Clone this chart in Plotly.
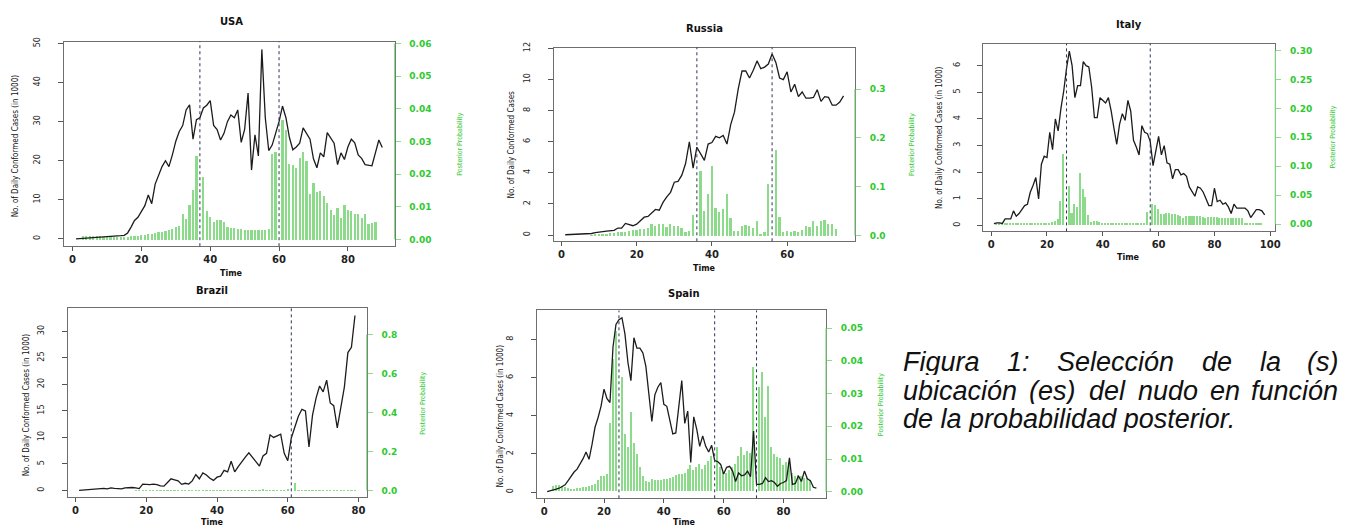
import plotly.graph_objects as go

W, H = 1352, 526

# ---------------- data ----------------
usa_cases = [0.0, 0.05, 0.1, 0.15, 0.2, 0.25, 0.3, 0.35, 0.4, 0.45, 0.5, 0.6, 0.7, 0.8, 0.9,
             1.5, 3.0, 4.7, 5.5, 7.0, 8.5, 11.2, 9.0, 14.0, 16.5, 18.5, 20.0, 18.5, 21.5, 25.0,
             27.5, 29.0, 33.0, 34.3, 25.5, 30.5, 31.0, 33.5, 34.2, 35.4, 29.0, 28.0, 25.3, 27.0, 30.0,
             31.7, 31.0, 33.0, 24.7, 28.0, 37.3, 17.6, 26.6, 21.2, 48.5, 31.0, 22.6, 24.0, 27.0, 30.0,
             34.0, 31.0, 26.0, 22.8, 23.5, 24.5, 28.4, 27.0, 25.5, 20.5, 18.2, 22.0, 21.0, 27.2, 25.8,
             24.5, 19.0, 22.0, 20.3, 23.5, 25.5, 24.6, 21.5, 20.6, 19.0, 18.8, 18.7, 22.0, 25.3, 23.4]
usa_prob = [0, 0, 0.0013, 0.0013, 0.0012, 0.0012, 0.0011, 0.0011, 0.001, 0.001,
            0.001, 0.001, 0.001, 0.001, 0.001, 0.001, 0.0011, 0.0012, 0.0013, 0.0014,
            0.0015, 0.0017, 0.0019, 0.0021, 0.0023, 0.0025, 0.0027, 0.003, 0.0034, 0.0038,
            0.0043, 0.008, 0.0063, 0.0107, 0.0154, 0.0256, 0.0, 0.0192, 0.0088, 0.0071,
            0.0056, 0.006, 0.006, 0.0053, 0.004, 0.0037, 0.0035, 0.0033, 0.0032, 0.0031,
            0.003, 0.0029, 0.0029, 0.003, 0.003, 0.003, 0.0034, 0.0262, 0.027, 0.0,
            0.0366, 0.0335, 0.0233, 0.0228, 0.0221, 0.0251, 0.0268, 0.024, 0.014, 0.0175,
            0.0145, 0.0148, 0.0135, 0.0113, 0.009, 0.0075, 0.0098, 0.0066, 0.0108, 0.009,
            0.0089, 0.008, 0.008, 0.0067, 0.0078, 0.0048, 0.005, 0.0053, 0, 0]
usa_knots = [37, 60]

russia_cases = [0.02, 0.03, 0.03, 0.04, 0.04, 0.05, 0.05, 0.1, 0.15, 0.2,
                0.22, 0.25, 0.27, 0.3, 0.45, 0.45, 0.75, 0.65, 0.6, 0.7,
                0.95, 1.15, 1.2, 1.4, 1.65, 1.6, 2.1, 2.45, 2.75, 3.4,
                3.45, 3.85, 4.6, 6.0, 4.3, 5.65, 5.2, 4.8, 5.85, 5.95,
                6.35, 6.25, 6.4, 5.85, 7.1, 7.9, 9.4, 10.55, 10.55, 10.1,
                10.6, 11.2, 10.7, 10.8, 11.0, 11.65, 11.1, 10.1, 10.0, 10.5,
                9.2, 9.7, 8.9, 9.2, 8.8, 8.8, 8.85, 9.35, 8.6, 8.9,
                8.85, 8.35, 8.35, 8.55, 8.95]
russia_prob = [0, 0, 0, 0, 0, 0, 0, 0.001, 0.002, 0.003,
               0.003, 0.004, 0.005, 0.006, 0.007, 0.008, 0.009, 0.01, 0.0115, 0.013,
               0.014, 0.014, 0.016, 0.024, 0.021, 0.024, 0.025, 0.019, 0.024, 0.021,
               0.02, 0.016, 0.008, 0.011, 0.043, 0, 0.134, 0.051, 0.085, 0.143,
               0.058, 0.049, 0.055, 0.085, 0.036, 0.011, 0.011, 0.02, 0.022, 0.021,
               0.017, 0.03, 0.004, 0.008, 0.107, 0, 0.175, 0.038, 0.009, 0.011,
               0.007, 0.01, 0.009, 0.012, 0.02, 0.018, 0.03, 0.02, 0.03, 0.032,
               0.025, 0.024, 0.015, 0, 0]
russia_knots = [36, 56]

italy_cases = [0.07, 0.1, 0.1, 0.08, 0.25, 0.25, 0.25, 0.55, 0.35, 0.45,
               0.6, 0.75, 0.8, 1.25, 1.5, 1.8, 1.0, 2.3, 2.6, 2.55,
               3.5, 2.85, 4.0, 3.55, 4.4, 5.05, 5.9, 6.55, 6.0, 4.8,
               5.25, 5.25, 6.15, 6.0, 5.95, 5.2, 4.05, 4.05, 4.8, 4.7,
               4.6, 4.8, 4.3, 3.65, 3.05, 3.8, 4.2, 3.95, 4.7, 4.3,
               3.2, 2.95, 2.65, 3.75, 3.5, 3.45, 3.15, 2.25, 2.8, 3.35,
               2.65, 3.0, 2.35, 2.3, 1.75, 2.1, 2.1, 1.9, 1.95, 1.85,
               1.45, 1.25, 1.1, 1.45, 1.4, 1.25, 1.0, 0.75, 0.75, 1.4,
               0.9, 0.95, 0.8, 0.85, 0.7, 0.45, 0.8, 0.65, 0.65, 0.65,
               0.65, 0.55, 0.3, 0.45, 0.6, 0.6, 0.55, 0.4]
italy_prob = [0, 0.002, 0.003, 0.002, 0.002, 0.002, 0.002, 0.002, 0.002, 0.002,
              0.002, 0.002, 0.002, 0.002, 0.002, 0.002, 0.002, 0.002, 0.002, 0.003,
              0.003, 0.005, 0.007, 0.01, 0.041, 0.122, 0, 0.067, 0.02, 0.035,
              0.031, 0.089, 0.062, 0.048, 0.0165, 0.005, 0.006, 0.006, 0.004, 0.003,
              0.002, 0.002, 0.002, 0.002, 0.002, 0.002, 0.002, 0.002, 0.002, 0.002,
              0.002, 0.002, 0.002, 0.002, 0.002, 0.021, 0, 0.035, 0.0335, 0.027,
              0.018, 0.018, 0.02, 0.02, 0.019, 0.018, 0.017, 0.015, 0.012, 0.014,
              0.015, 0.014, 0.015, 0.015, 0.014, 0.013, 0.012, 0.013, 0.013, 0.013,
              0.013, 0.012, 0.011, 0.012, 0.012, 0.011, 0.011, 0.011, 0.011, 0.011,
              0.002, 0.002, 0.002, 0.002, 0.002, 0.002, 0.002, 0]
italy_knots = [27, 57]

brazil_cases = [0.0, 0.05, 0.1, 0.1, 0.15, 0.2, 0.25, 0.4, 0.3, 0.5,
                0.4, 0.35, 0.3, 0.5, 0.55, 0.55, 0.5, 0.35, 1.2, 1.15,
                1.1, 1.2, 1.1, 0.85, 0.8, 1.5, 2.2, 2.0, 1.8, 1.15,
                1.35, 1.2, 1.8, 3.0, 2.2, 3.3, 2.9, 2.3, 1.9, 2.5,
                2.7, 3.8, 3.5, 5.5, 3.5, 4.5, 5.5, 6.3, 7.1, 6.3,
                5.3, 4.6, 6.5, 7.0, 10.5, 10.0, 10.3, 10.6, 7.0, 5.6,
                9.9, 11.8, 14.0, 15.3, 15.0, 8.2, 14.2, 17.4, 19.7, 18.6,
                20.8, 16.5, 16.0, 11.8, 15.5, 19.5, 26.0, 27.0, 33.0]
brazil_prob = [0, 0, 0, 0, 0, 0, 0, 0, 0, 0,
               0, 0, 0, 0, 0, 0, 0.003, 0.003, 0.003, 0.003,
               0.003, 0.003, 0.003, 0.003, 0.003, 0.003, 0.003, 0.003, 0.003, 0.003,
               0.003, 0.003, 0.003, 0.003, 0.003, 0.003, 0.003, 0.003, 0.003, 0.003,
               0.003, 0.003, 0.003, 0.003, 0.003, 0.003, 0.005, 0.003, 0.003, 0.003,
               0.003, 0.003, 0.012, 0.003, 0.003, 0.003, 0.003, 0.003, 0.003, 0.01,
               0, 0.043, 0.003, 0.003, 0.003, 0.003, 0.003, 0.003, 0.003, 0.003,
               0.003, 0.003, 0.003, 0.003, 0.003, 0.003, 0.003, 0.003, 0.003]
brazil_knots = [61]

spain_cases = [0.02, 0.05, 0.1, 0.15, 0.2, 0.28, 0.38, 0.6, 0.85, 1.05,
               1.2, 1.45, 1.75, 2.1, 1.72, 2.5, 3.4, 3.9, 4.5, 5.4,
               4.9, 4.7, 7.6, 8.8, 9.05, 9.15, 8.3, 6.8, 5.85, 8.1,
               7.55, 7.55, 7.3, 6.6, 5.3, 3.7, 5.1, 5.5, 5.75, 4.6,
               4.5, 3.8, 3.05, 3.1, 4.4, 5.85, 3.6, 4.25, 1.55, 3.95,
               3.3, 2.4, 2.95, 2.4, 2.1, 2.45, 1.65, 1.6, 1.45, 0.95,
               1.3, 1.35, 1.1, 0.55, 1.0, 0.85, 0.9, 1.1, 0.8, 3.2,
               0.4, 0.4, 0.45, 0.75, 0.55, 0.6, 0.5, 0.3, 0.45, 0.5,
               0.6, 1.8, 0.4, 0.45, 0.85, 0.55, 1.1, 0.7, 0.6, 0.25, 0.2]
spain_prob = [0, 0, 0.0015, 0.002, 0.0018, 0.0015, 0.0012, 0.001, 0.0008, 0.0008,
              0.001, 0.001, 0.0012, 0.0014, 0.0016, 0.0018, 0.0023, 0.0036, 0.0048, 0.0048,
              0.0053, 0.021, 0.0405, 0.049, 0, 0.0348, 0.0176, 0.0136, 0.0242, 0.0147,
              0.0114, 0.0074, 0.0048, 0.003, 0.0029, 0.0037, 0.0035, 0.0034, 0.0035, 0.0037,
              0.0039, 0.0042, 0.0045, 0.005, 0.0052, 0.0053, 0.0055, 0.0069, 0.0079, 0.0065,
              0.0075, 0.0084, 0.0069, 0.0079, 0.0094, 0.0109, 0, 0.0136, 0.0074, 0.006,
              0.0055, 0.0064, 0.0074, 0.0084, 0.0107, 0.0134, 0.0112, 0.0124, 0.0116, 0.0379,
              0, 0.0318, 0.0364, 0.0228, 0.0323, 0.0134, 0.0114, 0.0104, 0.0102, 0.0081,
              0.0089, 0.0091, 0.0056, 0.0048, 0.005, 0.0048, 0.0042, 0.004, 0.0035, 0, 0]
spain_knots = [25, 57, 71]

usa_days = list(range(1, len(usa_cases) + 1))
russia_days = list(range(1, len(russia_cases) + 1))
italy_days = list(range(1, len(italy_cases) + 1))
brazil_days = list(range(1, len(brazil_cases) + 1))
spain_days = list(range(1, len(spain_cases) + 1))

YLAB_1000 = "No. of Daily Conformed Cases (in 1000)"
YLAB_PLAIN = "No. of Daily Conformed Cases"
Y2LAB = "Posterior Probability"
XLAB = "Time"
CAPTION = "Figura 1: Selección de la (s) ubicación (es) del nudo en función de la probabilidad posterior."

# --------------- layout config (positions in pixels) ---------------
panels = [
    dict(name="USA", t=usa_days, c=usa_cases, p=usa_prob, k=usa_knots, ylab=YLAB_1000,
         box=(64, 396, 36, 243), xr=[-2.56, 93.56], yr=[-1.9, 50.5], y2r=[-0.0021, 0.0606],
         xt=[0, 20, 40, 60, 80], yt=[0, 10, 20, 30, 40, 50],
         y2t=[0, 0.01, 0.02, 0.03, 0.04, 0.05, 0.06], y2f=".2f", bw=0.5,
         title=(232, 16), time=(232, 271), yl=(15, 141), y2l=(462, 140)),
    dict(name="Russia", t=russia_days, c=russia_cases, p=russia_prob, k=russia_knots, ylab=YLAB_PLAIN,
         box=(556, 858, 42, 238), xr=[-2.0, 78.0], yr=[-0.4, 12.06], y2r=[-0.012, 0.385],
         xt=[0, 20, 40, 60], yt=[0, 2, 4, 6, 8, 10, 12],
         y2t=[0, 0.1, 0.2, 0.3], y2f=".1f", bw=0.48,
         title=(707, 23), time=(707, 266), yl=(513, 140), y2l=(916, 140)),
    dict(name="Italy", t=italy_days, c=italy_cases, p=italy_prob, k=italy_knots, ylab=YLAB_1000,
         box=(987, 1280, 38, 228), xr=[-2.8, 101.8], yr=[-0.22, 6.83], y2r=[-0.0125, 0.312],
         xt=[0, 20, 40, 60, 80, 100], yt=[0, 1, 2, 3, 4, 5, 6],
         y2t=[0, 0.05, 0.1, 0.15, 0.2, 0.25, 0.3], y2f=".2f", bw=0.55,
         title=(1133, 19), time=(1133, 254), yl=(943, 133), y2l=(1338, 133)),
    dict(name="Brazil", t=brazil_days, c=brazil_cases, p=brazil_prob, k=brazil_knots, ylab=YLAB_1000,
         box=(68, 368, 305, 497), xr=[-2.2, 82.3], yr=[-1.3, 34.5], y2r=[-0.035, 0.939],
         xt=[0, 20, 40, 60, 80], yt=[0, 5, 10, 15, 20, 25, 30],
         y2t=[0, 0.2, 0.4, 0.6, 0.8], y2f=".1f", bw=0.5,
         title=(213, 288), time=(213, 522), yl=(26, 403), y2l=(425, 402)),
    dict(name="Spain", t=spain_days, c=spain_cases, p=spain_prob, k=spain_knots, ylab=YLAB_1000,
         box=(539, 829, 308, 498), xr=[-2.4, 94.2], yr=[-0.33, 9.53], y2r=[-0.002, 0.0554],
         xt=[0, 20, 40, 60, 80], yt=[0, 2, 4, 6, 8],
         y2t=[0, 0.01, 0.02, 0.03, 0.04, 0.05], y2f=".2f", bw=0.5,
         title=(687, 291), time=(687, 522), yl=(502, 415), y2l=(885, 403)),
]

BAR_COLOR = "#8bdb8b"
LINE_COLOR = "#1c1c1c"
GREEN_TXT = "#2fc92f"
GREEN_AX = "#8fdc8f"
FRAME = "#6e6e6e"
KNOT_COLOR = "#2b3456"
NARROW = "DejaVu Sans Condensed, Liberation Sans, Arial, sans-serif"


def px(x):
    return x / W


def py(y):
    return 1 - y / H


fig = go.Figure()
layout = dict(width=W, height=H, margin=dict(l=0, r=0, t=0, b=0), showlegend=False,
              paper_bgcolor="white", plot_bgcolor="white", bargap=0)
annotations = []
shapes = []

for i, P in enumerate(panels, start=1):
    L, R, T, B = P["box"]
    xa = f"x{i}"
    yprob = f"y{2 * i - 1}"
    ycase = f"y{2 * i}"
    xkey = "xaxis" if i == 1 else f"xaxis{i}"
    kprob = "yaxis" if i == 1 else f"yaxis{2 * i - 1}"
    kcase = f"yaxis{2 * i}"

    fig.add_trace(go.Bar(x=P["t"], y=P["p"], width=P["bw"], xaxis=xa, yaxis=yprob,
                         marker=dict(color=BAR_COLOR, line=dict(width=0))))
    fig.add_trace(go.Scatter(x=P["t"], y=P["c"], mode="lines", xaxis=xa, yaxis=ycase,
                             line=dict(color=LINE_COLOR, width=1.3)))

    layout[xkey] = dict(domain=[px(L), px(R)], anchor=yprob, range=P["xr"],
                        tickvals=P["xt"], ticks="outside", ticklen=4, tickcolor="#555",
                        tickfont=dict(family="DejaVu Sans", size=10, color="#222", weight="bold"),
                        ticklabelstandoff=0,
                        showline=True, mirror=True, linecolor=FRAME, linewidth=1,
                        showgrid=False, zeroline=False)
    layout[kprob] = dict(domain=[py(B), py(T)], anchor=xa, side="right", range=P["y2r"],
                         tickvals=P["y2t"], tickformat=P["y2f"], ticks="outside", ticklen=5,
                         tickcolor=GREEN_AX,
                         tickfont=dict(family="DejaVu Sans", size=9, color=GREEN_TXT, weight="bold"),
                         ticklabelstandoff=7,
                         showline=False, showgrid=False, zeroline=False)
    layout[kcase] = dict(domain=[py(B), py(T)], anchor=xa, overlaying=yprob, side="left",
                         range=P["yr"], tickvals=P["yt"], ticks="outside", ticklen=5,
                         tickcolor="#555", tickangle=-90,
                         tickfont=dict(family=NARROW, size=9, color="#222"),
                         ticklabelstandoff=14,
                         showline=True, mirror=True, linecolor=FRAME, linewidth=1,
                         showgrid=False, zeroline=False)

    # green right axis segment
    shapes.append(dict(type="line", xref="paper", x0=px(R), x1=px(R), yref=yprob,
                       y0=P["y2t"][0], y1=P["y2t"][-1], line=dict(color=GREEN_AX, width=1.2),
                       layer="above"))
    # knot lines
    for kn in P["k"]:
        shapes.append(dict(type="line", xref=xa, x0=kn, x1=kn, yref="paper",
                           y0=py(B), y1=py(T), line=dict(color=KNOT_COLOR, width=1, dash="dot"),
                           layer="above"))

    tx, ty = P["title"]
    annotations.append(dict(text=f"<b>{P['name']}</b>", x=px(tx), y=py(ty), xref="paper", yref="paper",
                            showarrow=False, xanchor="center", yanchor="middle",
                            font=dict(family="DejaVu Sans", size=10, color="#111")))
    tx, ty = P["time"]
    annotations.append(dict(text=f"<b>{XLAB}</b>", x=px(tx), y=py(ty), xref="paper", yref="paper",
                            showarrow=False, xanchor="center", yanchor="middle",
                            font=dict(family="DejaVu Sans", size=8, color="#111")))
    tx, ty = P["yl"]
    annotations.append(dict(text=P["ylab"], x=px(tx), y=py(ty), xref="paper", yref="paper",
                            showarrow=False, xanchor="center", yanchor="middle", textangle=-90,
                            font=dict(family=NARROW, size=8, color="#111")))
    tx, ty = P["y2l"]
    annotations.append(dict(text=Y2LAB, x=px(tx), y=py(ty), xref="paper", yref="paper",
                            showarrow=False, xanchor="center", yanchor="middle", textangle=-90,
                            font=dict(family=NARROW, size=7, color=GREEN_TXT)))

# --------------- caption: justified text, words placed by Arial-metric widths ---------------
CAP_SIZE = 27
CAP_LEFT, CAP_RIGHT = 905, 1344
CAP_LINES_Y = [360, 389, 418]
CHAR_EM = {"a": .556, "b": .556, "c": .5, "d": .556, "e": .556, "f": .278, "g": .556, "i": .222,
           "l": .222, "n": .556, "o": .556, "p": .556, "r": .333, "s": .5, "t": .278, "u": .556,
           "F": .611, "S": .667, "(": .333, ")": .333, ":": .278, "1": .556, ".": .278,
           "ó": .556, "á": .556, " ": .278}


def word_width(w):
    return sum(CHAR_EM.get(ch, 0.556) for ch in w) * CAP_SIZE


cap_words = CAPTION.split(" ")
cap_lines = [cap_words[0:6], cap_words[6:12], [" ".join(cap_words[12:])]]
cap_font = dict(family="Liberation Sans", size=CAP_SIZE, color="#111")
for li, (words, yy) in enumerate(zip(cap_lines, CAP_LINES_Y)):
    justify = li < len(cap_lines) - 1
    widths = [word_width(w) for w in words]
    if justify and len(words) > 1:
        gap = (CAP_RIGHT - CAP_LEFT - sum(widths)) / (len(words) - 1)
    else:
        gap = 0
    x = CAP_LEFT
    for j, (w, wd) in enumerate(zip(words, widths)):
        last = justify and j == len(words) - 1
        annotations.append(dict(text=f"<i>{w}</i>", x=px(CAP_RIGHT if last else x), y=py(yy),
                                xref="paper", yref="paper", showarrow=False,
                                xanchor="right" if last else "left", yanchor="middle",
                                height=26, borderpad=0, font=cap_font))
        x += wd + gap

layout["annotations"] = annotations
layout["shapes"] = shapes
fig.update_layout(**layout)
fig.write_html("out.html", config={"displayModeBar": False},
               post_script="document.body.style.margin='0';")
